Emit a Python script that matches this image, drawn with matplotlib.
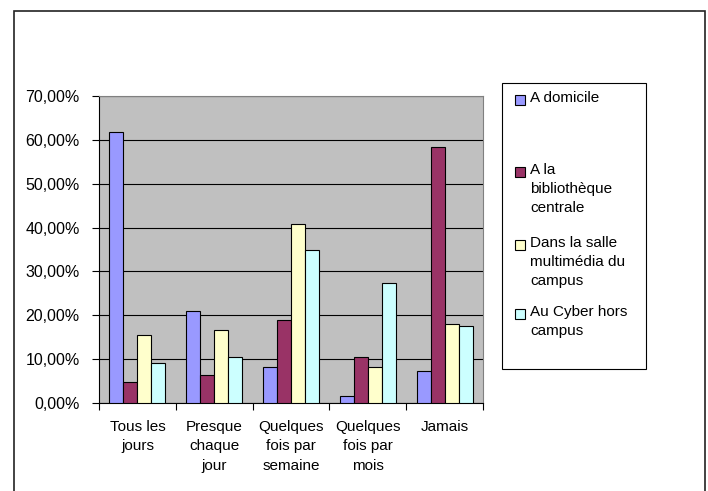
import matplotlib.pyplot as plt
import numpy as np
from matplotlib.patches import Rectangle

# Data (percent)
categories = ["Tous les\njours", "Presque\nchaque\njour", "Quelques\nfois par\nsemaine",
              "Quelques\nfois par\nmois", "Jamais"]
series_names = ["A domicile", "A la\nbibliothèque\ncentrale",
                "Dans la salle\nmultimédia du\ncampus", "Au Cyber hors\ncampus"]
a_domicile = [61.7, 20.9, 8.3, 1.5, 7.3]
bibliotheque = [4.8, 6.3, 19.0, 10.6, 58.3]
salle_multimedia = [15.5, 16.6, 40.8, 8.3, 17.9]
cyber = [9.2, 10.6, 35.0, 27.3, 17.5]
yticks = [0, 10, 20, 30, 40, 50, 60, 70]

colors = ["#9999FF", "#993366", "#FFFFCC", "#CCFFFF"]
all_series = [a_domicile, bibliotheque, salle_multimedia, cyber]

plt.rcParams['font.family'] = ['Liberation Sans', 'DejaVu Sans']
plt.rcParams['font.size'] = 11

fig = plt.figure(figsize=(7.08, 4.91), dpi=100)
W, H = 708.0, 491.0
ax = fig.add_axes([99 / W, 1 - 403 / H, 384 / W, 307 / H])
ax.set_facecolor("#C0C0C0")

x = np.arange(len(categories))
bw = 0.182
for i, vals in enumerate(all_series):
    ax.bar(x + (i - 1.5) * bw, vals, width=bw, color=colors[i],
           edgecolor="black", linewidth=0.8, zorder=3)

ax.set_xlim(-0.5, len(categories) - 0.5)
ax.set_ylim(0, 70)
ax.set_yticks(yticks)
ax.set_yticklabels(["%d,00%%" % v for v in yticks], fontsize=11.5)
ax.yaxis.grid(True, color="black", linewidth=0.8, zorder=1)

# category labels centred, ticks on the category boundaries
ax.set_xticks(x)
ax.set_xticklabels(categories, linespacing=1.5)
ax.set_xticks(np.arange(len(categories) + 1) - 0.5, minor=True)
ax.tick_params(axis="x", which="major", length=0, pad=12)
ax.tick_params(axis="x", which="minor", length=5, direction="out", width=0.8)
ax.tick_params(axis="y", length=5, direction="out", width=0.8, pad=9)

for s in ["top", "right"]:
    ax.spines[s].set_color("#808080")
for s in ["left", "bottom"]:
    ax.spines[s].set_color("black")
    ax.spines[s].set_linewidth(0.8)

# outer chart border
fig.patches.append(Rectangle((14 / W, -0.02), (705 - 14) / W, 1.02 - 11 / H,
                             transform=fig.transFigure, fill=False,
                             edgecolor="#222222", linewidth=1.2))

# legend box, drawn like the spreadsheet one
fig.patches.append(Rectangle((502 / W, 1 - 369 / H), (646 - 502) / W, (369 - 83) / H,
                             transform=fig.transFigure, fill=False,
                             edgecolor="black", linewidth=0.8))
entry_tops = [91, 163, 236, 305]
for i, name in enumerate(series_names):
    top = entry_tops[i]
    fig.patches.append(Rectangle((515 / W, 1 - (top + 14) / H), 10 / W, 10 / H,
                                 transform=fig.transFigure, facecolor=colors[i],
                                 edgecolor="black", linewidth=0.8))
    fig.text(530 / W, 1 - top / H, name, ha="left", va="top", linespacing=1.45)

fig.savefig("out.png", dpi=100)
